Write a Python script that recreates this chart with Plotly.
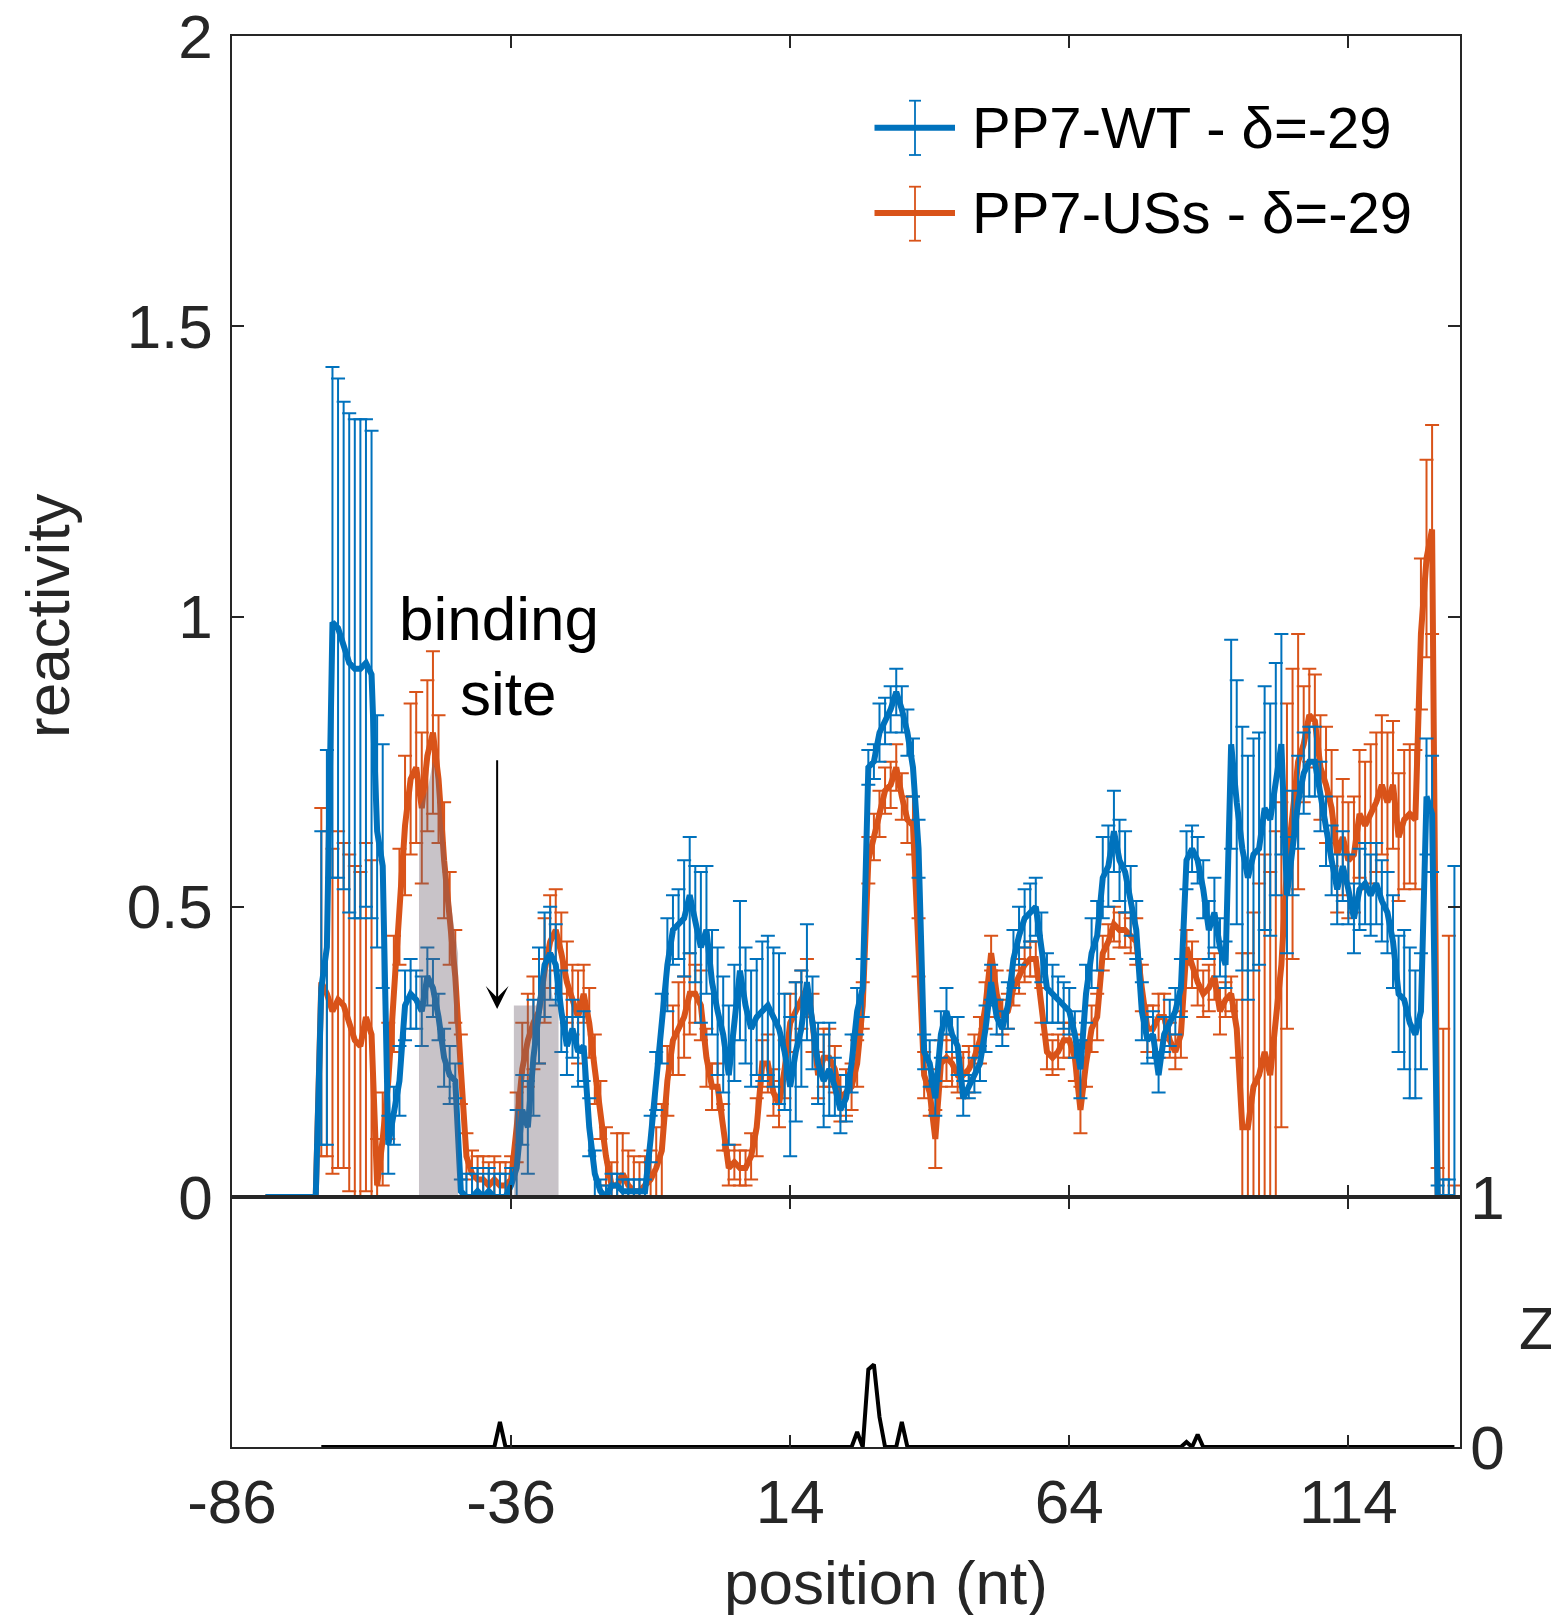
import plotly.graph_objects as go

# positions (nt) for the two reactivity profiles
pos = list(range(-80, 134))

# PP7-WT reactivity and its error (one row = 10 positions, starting at -80)
wt = [
    0, 0, 0, 0, 0, 0, 0, 0, 0, 0,
    0.36, 0.43, 0.99, 0.98, 0.95, 0.92, 0.91, 0.91, 0.92, 0.90,
    0.63, 0.57, 0.09, 0.14, 0.20, 0.33, 0.35, 0.34, 0.32, 0.38,
    0.36, 0.31, 0.24, 0.21, 0.20, 0.01, 0.0, 0.0, 0.01, 0.0,
    0.01, 0.0, 0.0, 0.0, 0.02, 0.05, 0.15, 0.12, 0.24, 0.33,
    0.40, 0.42, 0.40, 0.32, 0.26, 0.29, 0.25, 0.26, 0.12, 0.04,
    0.01, 0.0, 0.02, 0.02, 0.01, 0.01, 0.01, 0.01, 0.01, 0.10,
    0.20, 0.29, 0.40, 0.46, 0.47, 0.48, 0.52, 0.47, 0.43, 0.46,
    0.37, 0.32, 0.28, 0.21, 0.30, 0.39, 0.33, 0.29, 0.31, 0.32,
    0.33, 0.31, 0.29, 0.25, 0.19, 0.25, 0.29, 0.37, 0.30, 0.23,
    0.20, 0.22, 0.19, 0.15, 0.17, 0.23, 0.32, 0.36, 0.74, 0.75,
    0.80, 0.82, 0.84, 0.87, 0.84, 0.80, 0.74, 0.60, 0.25, 0.23,
    0.17, 0.28, 0.32, 0.28, 0.26, 0.17, 0.19, 0.21, 0.23, 0.29,
    0.37, 0.31, 0.29, 0.33, 0.41, 0.45, 0.48, 0.49, 0.50, 0.43,
    0.36, 0.35, 0.34, 0.33, 0.32, 0.28, 0.22, 0.35, 0.42, 0.45,
    0.55, 0.57, 0.63, 0.58, 0.56, 0.51, 0.46, 0.32, 0.27, 0.28,
    0.21, 0.28, 0.30, 0.32, 0.36, 0.58, 0.60, 0.58, 0.53, 0.46,
    0.49, 0.43, 0.40, 0.78, 0.68, 0.60, 0.55, 0.59, 0.60, 0.67,
    0.65, 0.72, 0.78, 0.52, 0.61, 0.68, 0.73, 0.75, 0.75, 0.69,
    0.63, 0.58, 0.53, 0.57, 0.53, 0.48, 0.53, 0.54, 0.52, 0.54,
    0.51, 0.49, 0.44, 0.35, 0.34, 0.30, 0.28, 0.32, 0.69, 0.66,
    0, 0, 0, 0,
]
wt_err = [
    0, 0, 0, 0, 0, 0, 0, 0, 0, 0,
    0.27, 0.34, 0.44, 0.43, 0.42, 0.43, 0.43, 0.43, 0.42, 0.42,
    0.20, 0.21, 0.05, 0.05, 0.06, 0.06, 0.06, 0.05, 0.06, 0.05,
    0.05, 0.04, 0.05, 0.05, 0.03, 0.02, 0.04, 0.04, 0.04, 0.04,
    0.04, 0.04, 0.04, 0.04, 0.03, 0.10, 0.06, 0.08, 0.10, 0.10,
    0.09, 0.08, 0.07, 0.07, 0.05, 0.05, 0.06, 0.06, 0.05, 0.04,
    0.02, 0.02, 0.02, 0.02, 0.02, 0.02, 0.02, 0.02, 0.02, 0.04,
    0.05, 0.06, 0.08, 0.06, 0.06, 0.10, 0.10, 0.10, 0.13, 0.11,
    0.09, 0.11, 0.10, 0.12, 0.10, 0.12, 0.10, 0.10, 0.10, 0.12,
    0.12, 0.12, 0.13, 0.10, 0.12, 0.12, 0.10, 0.10, 0.08, 0.07,
    0.08, 0.08, 0.05, 0.04, 0.04, 0.05, 0.04, 0.05, 0.03, 0.03,
    0.05, 0.04, 0.04, 0.04, 0.04, 0.04, 0.05, 0.05, 0.03, 0.04,
    0.03, 0.04, 0.04, 0.03, 0.05, 0.03, 0.02, 0.03, 0.03, 0.04,
    0.03, 0.03, 0.03, 0.04, 0.05, 0.05, 0.05, 0.05, 0.05, 0.06,
    0.06, 0.05, 0.04, 0.04, 0.04, 0.04, 0.05, 0.05, 0.06, 0.06,
    0.07, 0.07, 0.07, 0.07, 0.07, 0.06, 0.05, 0.05, 0.04, 0.04,
    0.03, 0.03, 0.04, 0.04, 0.05, 0.05, 0.04, 0.04, 0.05, 0.05,
    0.06, 0.05, 0.04, 0.18, 0.21, 0.21, 0.21, 0.20, 0.20, 0.21,
    0.20, 0.20, 0.19, 0.10, 0.09, 0.08, 0.07, 0.06, 0.06, 0.06,
    0.06, 0.06, 0.06, 0.06, 0.06, 0.06, 0.07, 0.07, 0.07, 0.07,
    0.07, 0.07, 0.08, 0.10, 0.12, 0.13, 0.11, 0.10, 0.10, 0.10,
    0.02, 0.03, 0.03, 0.57,
]

# PP7-USs reactivity and its error
uss = [
    0, 0, 0, 0, 0, 0, 0, 0, 0, 0,
    0.37, 0.35, 0.32, 0.34, 0.33, 0.30, 0.27, 0.26, 0.31, 0.28,
    0.02, 0.10, 0.20, 0.35, 0.50, 0.64, 0.72, 0.74, 0.67, 0.76,
    0.80, 0.72, 0.58, 0.48, 0.38, 0.22, 0.07, 0.04, 0.03, 0.03,
    0.02, 0.03, 0.02, 0.02, 0.03, 0.12, 0.22, 0.27, 0.30, 0.32,
    0.39, 0.44, 0.46, 0.42, 0.37, 0.34, 0.31, 0.35, 0.30, 0.22,
    0.15, 0.07, 0.02, 0.02, 0.04, 0.02, 0.01, 0.01, 0.02, 0.03,
    0.05, 0.08, 0.20, 0.27, 0.29, 0.31, 0.35, 0.35, 0.33, 0.24,
    0.19, 0.19, 0.12, 0.05, 0.06, 0.05, 0.05, 0.07, 0.12, 0.23,
    0.23, 0.18, 0.16, 0.22, 0.30, 0.32, 0.34, 0.36, 0.30, 0.21,
    0.24, 0.24, 0.22, 0.17, 0.18, 0.19, 0.23, 0.33, 0.58, 0.62,
    0.66, 0.70, 0.71, 0.74, 0.69, 0.65, 0.64, 0.43, 0.21, 0.18,
    0.10, 0.23, 0.24, 0.23, 0.21, 0.21, 0.22, 0.24, 0.27, 0.33,
    0.42, 0.35, 0.31, 0.32, 0.36, 0.38, 0.40, 0.41, 0.41, 0.33,
    0.25, 0.24, 0.25, 0.27, 0.27, 0.24, 0.15, 0.23, 0.29, 0.31,
    0.42, 0.44, 0.47, 0.46, 0.46, 0.45, 0.44, 0.36, 0.29, 0.29,
    0.31, 0.31, 0.27, 0.25, 0.28, 0.43, 0.40, 0.37, 0.35, 0.36,
    0.38, 0.32, 0.34, 0.35, 0.29, 0.12, 0.12, 0.19, 0.21, 0.25,
    0.21, 0.31, 0.40, 0.57, 0.66, 0.75, 0.78, 0.83, 0.82, 0.74,
    0.71, 0.67, 0.59, 0.62, 0.58, 0.59, 0.66, 0.64, 0.66, 0.68,
    0.71, 0.68, 0.71, 0.62, 0.65, 0.66, 0.65, 0.97, 1.10, 1.15,
    0, 0, 0, 0,
]
uss_err = [
    0, 0, 0, 0, 0, 0, 0, 0, 0, 0,
    0.30, 0.28, 0.28, 0.29, 0.28, 0.29, 0.30, 0.30, 0.30, 0.30,
    0.08, 0.08, 0.10, 0.10, 0.10, 0.12, 0.13, 0.13, 0.13, 0.13,
    0.14, 0.11, 0.10, 0.08, 0.08, 0.06, 0.04, 0.04, 0.04, 0.04,
    0.04, 0.04, 0.04, 0.04, 0.04, 0.06, 0.08, 0.08, 0.08, 0.09,
    0.09, 0.08, 0.07, 0.07, 0.07, 0.06, 0.08, 0.05, 0.06, 0.06,
    0.05, 0.05, 0.04, 0.09, 0.07, 0.06, 0.06, 0.05, 0.05, 0.05,
    0.07, 0.08, 0.06, 0.06, 0.08, 0.07, 0.07, 0.05, 0.06, 0.05,
    0.04, 0.04, 0.04, 0.03, 0.03, 0.03, 0.03, 0.04, 0.05, 0.04,
    0.05, 0.04, 0.04, 0.05, 0.05, 0.05, 0.05, 0.05, 0.05, 0.04,
    0.05, 0.05, 0.04, 0.04, 0.04, 0.04, 0.04, 0.04, 0.04, 0.04,
    0.04, 0.04, 0.04, 0.04, 0.04, 0.04, 0.05, 0.05, 0.04, 0.04,
    0.05, 0.04, 0.04, 0.04, 0.03, 0.04, 0.04, 0.04, 0.04, 0.04,
    0.03, 0.04, 0.03, 0.03, 0.03, 0.03, 0.03, 0.03, 0.03, 0.03,
    0.03, 0.03, 0.03, 0.03, 0.03, 0.04, 0.04, 0.04, 0.04, 0.04,
    0.03, 0.03, 0.03, 0.03, 0.03, 0.03, 0.04, 0.04, 0.04, 0.04,
    0.04, 0.04, 0.03, 0.03, 0.04, 0.03, 0.04, 0.04, 0.04, 0.04,
    0.04, 0.04, 0.03, 0.03, 0.05, 0.30, 0.30, 0.30, 0.33, 0.34,
    0.35, 0.32, 0.28, 0.28, 0.25, 0.22, 0.10, 0.08, 0.08, 0.09,
    0.10, 0.10, 0.10, 0.10, 0.10, 0.10, 0.11, 0.11, 0.12, 0.12,
    0.12, 0.12, 0.11, 0.11, 0.12, 0.12, 0.12, 0.13, 0.17, 0.18,
    0.05, 0.29, 0.45, 0.02,
]

# Z score (lower panel), positions -70..133
z_pos = list(range(-70, 134))
z = [
    0, 0, 0, 0, 0, 0, 0, 0, 0, 0,
    0, 0, 0, 0, 0, 0, 0, 0, 0, 0,
    0, 0, 0, 0, 0, 0, 0, 0, 0, 0,
    0, 0, 0.10, 0, 0, 0, 0, 0, 0, 0,
    0, 0, 0, 0, 0, 0, 0, 0, 0, 0,
    0, 0, 0, 0, 0, 0, 0, 0, 0, 0,
    0, 0, 0, 0, 0, 0, 0, 0, 0, 0,
    0, 0, 0, 0, 0, 0, 0, 0, 0, 0,
    0, 0, 0, 0, 0, 0, 0, 0, 0, 0,
    0, 0, 0, 0, 0, 0, 0.06, 0, 0.31, 0.33,
    0.12, 0, 0, 0, 0.10, 0, 0, 0, 0, 0,
    0, 0, 0, 0, 0, 0, 0, 0, 0, 0,
    0, 0, 0, 0, 0, 0, 0, 0, 0, 0,
    0, 0, 0, 0, 0, 0, 0, 0, 0, 0,
    0, 0, 0, 0, 0, 0, 0, 0, 0, 0,
    0, 0, 0, 0, 0, 0.02, 0, 0.05, 0, 0,
    0, 0, 0, 0, 0, 0, 0, 0, 0, 0,
    0, 0, 0, 0, 0, 0, 0, 0, 0, 0,
    0, 0, 0, 0, 0, 0, 0, 0, 0, 0,
    0, 0, 0, 0, 0, 0, 0, 0, 0, 0,
    0, 0, 0, 0,
]

# shaded binding-site patches
site1_x = [-52.5, -51, -50, -49, -48, -47, -46, -45.5]
site1_y = [0.67, 0.70, 0.75, 0.72, 0.62, 0.52, 0.45, 0.42]
site2_x = [-35.5, -31.5, -30.5, -29.5, -28.5, -27.5]
site2_y = [0.33, 0.33, 0.38, 0.40, 0.34, 0.33]

xticks = [-86, -36, 14, 64, 114]
xtick_text = ["-86", "-36", "14", "64", "114"]
yticks = [0, 0.5, 1, 1.5, 2]
ytick_text = ["0", "0.5", "1", "1.5", "2"]

BLUE = "#0072BD"
ORANGE = "#D95319"
AX = "#262626"
FONT = "Liberation Sans, Arial, Helvetica, sans-serif"

# the page body has an 8 px margin, so the figure starts 8 px in from the window corner
OFF = 8
W, H = 1559 - OFF, 1615 - OFF


def px(x):
    return (x - OFF) / W


def py(y):
    return 1 - (y - OFF) / H


fig = go.Figure()

for y, err, col, name in [(uss, uss_err, ORANGE, "PP7-USs - δ=-29"),
                          (wt, wt_err, BLUE, "PP7-WT - δ=-29")]:
    fig.add_trace(go.Scatter(
        x=pos, y=y, mode="lines", name=name,
        line=dict(color=col, width=6),
        error_y=dict(type="data", array=err, visible=True,
                     color=col, thickness=2, width=7),
        xaxis="x", yaxis="y", showlegend=False))

for sx, sy in [(site1_x, site1_y), (site2_x, site2_y)]:
    fig.add_trace(go.Scatter(
        x=sx, y=sy, mode="lines", fill="tozeroy",
        line=dict(width=0, color="rgba(0,0,0,0)"),
        fillcolor="rgba(110,97,110,0.38)",
        xaxis="x", yaxis="y", showlegend=False, hoverinfo="skip"))

fig.add_trace(go.Scatter(
    x=z_pos, y=z, mode="lines", line=dict(color="black", width=4),
    xaxis="x2", yaxis="y2", showlegend=False))

axis_common = dict(
    showgrid=False, zeroline=False, showline=True, linecolor=AX, linewidth=1.5,
    ticks="inside", ticklen=12, tickwidth=1.5, tickcolor=AX, automargin=False,
    ticklabeloverflow="allow",
    tickfont=dict(family=FONT, size=62, color=AX),
)

xdom = [px(232), px(1460)]
fig.update_layout(
    width=W, height=H,
    margin=dict(l=0, r=0, t=0, b=0, pad=0),
    paper_bgcolor="white", plot_bgcolor="white",
    xaxis=dict(axis_common, domain=xdom, range=[-86, 134], tickvals=xticks,
               ticktext=xtick_text, showticklabels=False, mirror="ticks", anchor="y"),
    yaxis=dict(axis_common, domain=[py(1197), py(36)], range=[0, 2],
               tickvals=yticks, ticktext=ytick_text,
               mirror="ticks", anchor="x", ticklabelstandoff=5),
    xaxis2=dict(axis_common, domain=xdom, range=[-86, 134], tickvals=xticks,
                ticktext=xtick_text, mirror="ticks", anchor="y2", ticklabelstandoff=0),
    yaxis2=dict(axis_common, domain=[py(1447), py(1197)], range=[0, 1],
                tickvals=[0, 1], ticktext=["0", "1"], side="right", ticks="",
                mirror=True, anchor="x2", ticklabelstandoff=-4),
)

ann = []
ann.append(dict(text="reactivity", x=px(47), y=py(616), xref="paper", yref="paper",
                textangle=-90, showarrow=False, xanchor="center", yanchor="middle",
                font=dict(family=FONT, size=62, color=AX)))
ann.append(dict(text="position (nt)", x=px(886), y=py(1582), xref="paper", yref="paper",
                showarrow=False, xanchor="center", yanchor="middle",
                font=dict(family=FONT, size=62, color=AX)))
ann.append(dict(text="Z", x=px(1537), y=py(1328), xref="paper", yref="paper",
                showarrow=False, xanchor="center", yanchor="middle",
                font=dict(family=FONT, size=60, color=AX)))
ann.append(dict(text="binding", x=-38.1, y=0.997, xref="x", yref="y",
                showarrow=False, xanchor="center", yanchor="middle",
                font=dict(family=FONT, size=62, color="black")))
ann.append(dict(text="site", x=-36.6, y=0.868, xref="x", yref="y",
                showarrow=False, xanchor="center", yanchor="middle",
                font=dict(family=FONT, size=62, color="black")))
ann.append(dict(text="", x=-38.5, y=0.324, ax=-38.5, ay=0.755, xref="x", yref="y",
                axref="x", ayref="y", showarrow=True, arrowhead=3, arrowsize=1.9,
                arrowwidth=2, arrowcolor="black"))

# legend drawn by hand: line sample with an error-bar glyph, then the label
shapes = []
for yc, top, bot, col, label in [(127.7, 100.7, 155, BLUE, "PP7-WT - δ=-29"),
                                 (213, 186.7, 240.7, ORANGE, "PP7-USs - δ=-29")]:
    shapes.append(dict(type="line", xref="paper", yref="paper",
                       x0=px(874.5), x1=px(955), y0=py(yc), y1=py(yc),
                       line=dict(color=col, width=6)))
    shapes.append(dict(type="line", xref="paper", yref="paper",
                       x0=px(915), x1=px(915), y0=py(top), y1=py(bot),
                       line=dict(color=col, width=1.8)))
    for yy in (top, bot):
        shapes.append(dict(type="line", xref="paper", yref="paper",
                           x0=px(909), x1=px(921), y0=py(yy), y1=py(yy),
                           line=dict(color=col, width=1.8)))
    ann.append(dict(text=label, x=px(970), y=py(yc), xref="paper", yref="paper",
                    showarrow=False, xanchor="left", yanchor="middle",
                    font=dict(family=FONT, size=58, color="black")))

fig.update_layout(annotations=ann, shapes=shapes)

fig.write_html("out.html")
